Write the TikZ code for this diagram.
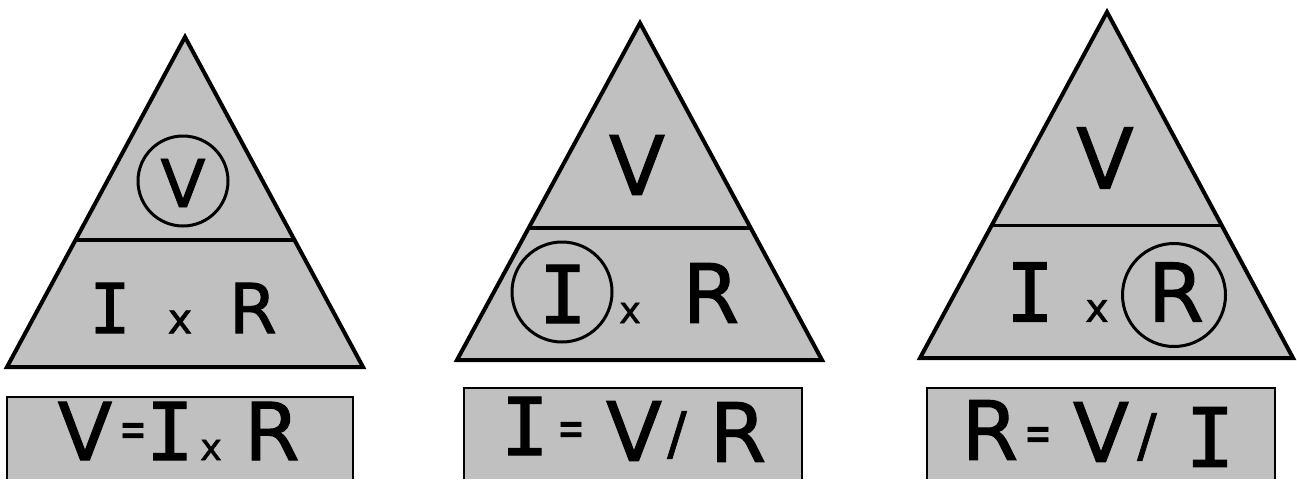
\documentclass[tikz,border=0pt]{standalone}
\usepackage{fontspec}
\usetikzlibrary{calc}
\newfontfamily\dvs[FakeBold=1.2]{DejaVu Sans}
\newfontfamily\dvm[FakeBold=1.4]{DejaVu Sans Mono}
\newcommand\gsz[1]{\fontsize{#1}{#1}\selectfont}
\newcommand\eqglyph[1]{\scalebox{0.62}[1]{\gsz{#1}=}}
\definecolor{panelgray}{RGB}{192,192,192}
\tikzset{
  glyph/.style={inner sep=0pt, outer sep=0pt, anchor=center, font=\dvs},
  tri/.style={fill=panelgray, draw=black, line width=4pt},
  divider/.style={draw=black, line width=3.2pt},
  ring/.style={circle, draw=black, line width=3pt, inner sep=0pt},
  boxfill/.style={fill=panelgray},
  boxline/.style={draw=black, line width=1.6pt}
}
\begin{document}
\begin{tikzpicture}[x=1pt, y=-1pt]
\useasboundingbox (0,0) rectangle (1297,479);
\fill[white] (0,0) rectangle (1297,479);

% ---------- Triangle 1 ----------
\coordinate (t1a) at (185,37);
\coordinate (t1l) at (7,367);
\coordinate (t1r) at (363,367);
\draw[tri] (t1a) -- (t1l) -- (t1r) -- cycle;
\coordinate (d1l) at ($(t1a)!0.615!(t1l)$);
\coordinate (d1r) at ($(t1a)!0.615!(t1r)$);
\draw[divider] (d1l) -- (d1r);
\node[glyph] (t1V) at (183,183) {\gsz{66}V};
\node[ring, minimum size=90pt] (t1c) at (183,181) {};
\node[glyph] (t1I) at (110,308) {\dvm\gsz{69}I};
\node[glyph] (t1x) at (180,322) {\gsz{42}x};
\node[glyph] (t1R) at (253,308) {\gsz{69}R};

% ---------- Triangle 2 ----------
\coordinate (t2a) at (640,23);
\coordinate (t2l) at (457,360);
\coordinate (t2r) at (822,360);
\draw[tri] (t2a) -- (t2l) -- (t2r) -- cycle;
\coordinate (d2l) at ($(t2a)!0.608!(t2l)$);
\coordinate (d2r) at ($(t2a)!0.608!(t2r)$);
\draw[divider] (d2l) -- (d2r);
\node[glyph] (t2V) at (637,165) {\gsz{82}V};
\node[glyph] (t2I) at (563,294) {\dvm\gsz{80}I};
\node[ring, minimum size=100pt] (t2c) at (562,292) {};
\node[glyph] (t2x) at (630,313) {\gsz{37}x};
\node[glyph] (t2R) at (711,293) {\gsz{82}R};

% ---------- Triangle 3 ----------
\coordinate (t3a) at (1107,12);
\coordinate (t3l) at (920,358);
\coordinate (t3r) at (1293,358);
\draw[tri] (t3a) -- (t3l) -- (t3r) -- cycle;
\coordinate (d3l) at ($(t3a)!0.616!(t3l)$);
\coordinate (d3r) at ($(t3a)!0.616!(t3r)$);
\draw[divider] (d3l) -- (d3r);
\node[glyph] (t3V) at (1105,158) {\gsz{84}V};
\node[glyph] (t3I) at (1030,292) {\dvm\gsz{81}I};
\node[glyph] (t3x) at (1097,311) {\gsz{40}x};
\node[glyph] (t3R) at (1176,292) {\gsz{81}R};
\node[ring, minimum size=103pt] (t3c) at (1174,295) {};

% ---------- Formula boxes (bottom edge cut off by the picture) ----------
\fill[boxfill] (7,397) rectangle (353,479);
\draw[boxline] (7,479) -- (7,397) -- (353,397) -- (353,479);
\node[glyph] (b1V) at (85,431) {\gsz{80}V};
\node[glyph] (b1e) at (133,435) {\eqglyph{52}};
\node[glyph] (b1I) at (170,431) {\dvm\gsz{80}I};
\node[glyph] (b1x) at (211,450) {\gsz{37}x};
\node[glyph] (b1R) at (272,431) {\gsz{80}R};

\fill[boxfill] (464,388) rectangle (802,479);
\draw[boxline] (464,479) -- (464,388) -- (802,388) -- (802,479);
\node[glyph] (b2I) at (525,426) {\dvm\gsz{80}I};
\node[glyph] (b2e) at (571,434) {\eqglyph{52}};
\node[glyph] (b2V) at (634,431) {\gsz{82}V};
\node[glyph] (b2s) at (677,435) {\gsz{58}/};
\node[glyph] (b2R) at (738,432) {\gsz{82}R};

\fill[boxfill] (927,388) rectangle (1275,479);
\draw[boxline] (927,479) -- (927,388) -- (1275,388) -- (1275,479);
\node[glyph] (b3R) at (990,430) {\gsz{82}R};
\node[glyph] (b3e) at (1038,439) {\eqglyph{52}};
\node[glyph] (b3V) at (1101,432) {\gsz{82}V};
\node[glyph] (b3s) at (1147,437) {\gsz{58}/};
\node[glyph] (b3I) at (1210,437) {\dvm\gsz{82}I};
\end{tikzpicture}
\end{document}
